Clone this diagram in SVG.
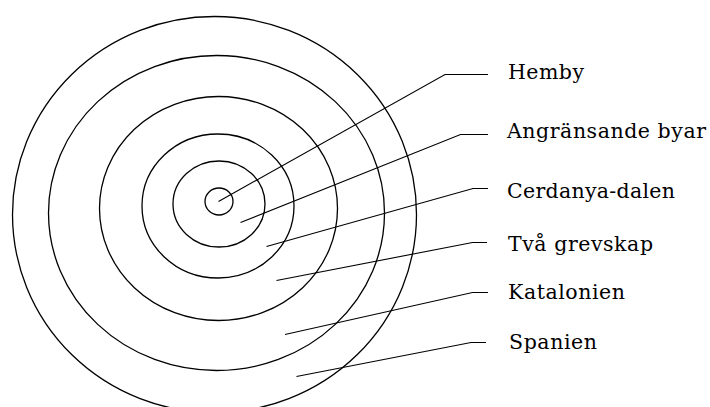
<svg xmlns="http://www.w3.org/2000/svg" width="710" height="407" viewBox="0 0 710 407">
<style>
.ring{fill:none;stroke:#000;stroke-width:1.3}
.lead{fill:none;stroke:#000;stroke-width:1.1}
.lbl{font-family:"DejaVu Serif","Liberation Serif",serif;font-size:20.5px;fill:#000}
</style>
<rect width="710" height="407" fill="#fff"/>
<g id="rings">
<ellipse id="ring-spanien" class="ring" cx="214.5" cy="214.5" rx="202" ry="198"/>
<ellipse id="ring-katalonien" class="ring" cx="216.5" cy="213" rx="168" ry="157.5"/>
<ellipse id="ring-grevskap" class="ring" cx="218.5" cy="208.5" rx="119" ry="112"/>
<ellipse id="ring-cerdanya" class="ring" cx="218" cy="206" rx="76" ry="72"/>
<ellipse id="ring-byar" class="ring" cx="219" cy="204" rx="46" ry="43"/>
<ellipse id="ring-hemby" class="ring" cx="219" cy="201.5" rx="14" ry="13.5"/>
</g>
<g id="connectors">
<polyline class="lead" points="218.5,201.5 445,74.5 488,74.5"/>
<polyline class="lead" points="240.5,222.5 460.5,134.5 488,134.5"/>
<polyline class="lead" points="266.5,246.5 473,188.5 488,188.5"/>
<polyline class="lead" points="276.5,280.5 472.5,242.5 487,242.5"/>
<polyline class="lead" points="285,334.5 472.5,292.5 488,292.5"/>
<polyline class="lead" points="296.5,376.5 471,342.5 486,342.5"/>
</g>
<g id="label-hemby"><text class="lbl" x="508" y="79" textLength="76">Hemby</text></g>
<g id="label-byar"><text class="lbl" x="507" y="137.5" textLength="199">Angränsande byar</text></g>
<g id="label-cerdanya"><text class="lbl" x="507" y="197.5" textLength="168">Cerdanya-dalen</text></g>
<g id="label-grevskap"><text class="lbl" x="508" y="251" textLength="145">Två grevskap</text></g>
<g id="label-katalonien"><text class="lbl" x="508" y="299" textLength="117">Katalonien</text></g>
<g id="label-spanien"><text class="lbl" x="509" y="348.5" textLength="88">Spanien</text></g>
</svg>
